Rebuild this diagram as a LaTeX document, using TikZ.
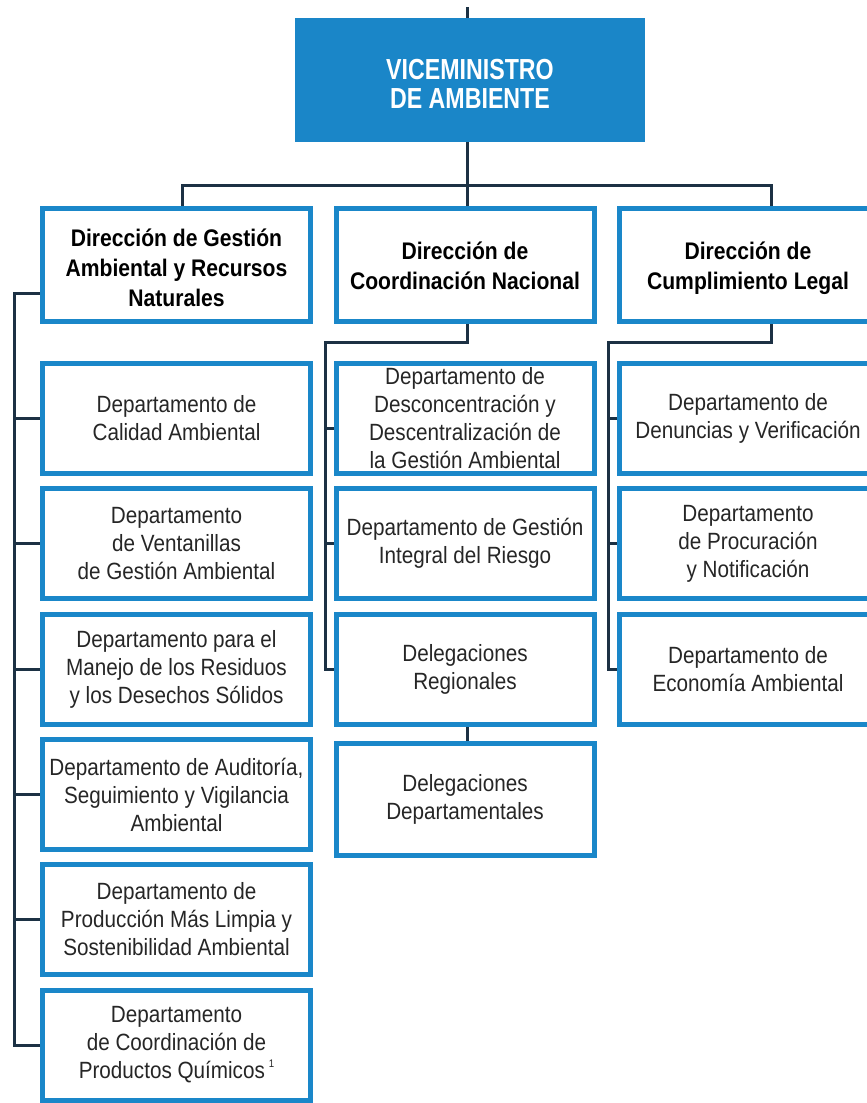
\documentclass[tikz,border=0pt]{standalone}
\usepackage{fontspec}
\setmainfont{Liberation Sans}[FakeStretch=0.88]
\newfontfamily\topfont{Liberation Sans}[FakeStretch=0.8]
\definecolor{boxblue}{HTML}{1A87C9}
\definecolor{fillblue}{HTML}{1A86C8}
\definecolor{navy}{HTML}{1C3144}
\definecolor{txt}{HTML}{262626}
\pgfdeclarelayer{bg}
\pgfsetlayers{bg,main}
\tikzset{
  conn/.style={draw=navy, line width=3pt},
  dept/.style={draw=boxblue, line width=5pt, fill=white, inner sep=0pt, align=center,
     text=txt, font=\fontsize{23.5}{28}\selectfont},
  head/.style={draw=boxblue, line width=5pt, fill=white, inner sep=0pt, align=center,
     text=black, font=\fontsize{24}{30}\selectfont\bfseries,
     minimum height=113pt},
  topbox/.style={fill=fillblue, inner sep=0pt, align=center, text=white,
     font=\topfont\fontsize{29}{29}\selectfont\bfseries},
}
\begin{document}
\begin{tikzpicture}[x=1pt,y=-1pt]
\useasboundingbox (0,0) rectangle (867,1103);
\clip (0,0) rectangle (867,1103);
% top
\node[topbox, minimum width=350pt, minimum height=124pt] (vice) at (470,80) {\raisebox{-8pt}[\height][\depth]{\begin{tabular}{@{}c@{}}VICEMINISTRO\\DE AMBIENTE\end{tabular}}};
% headers
\node[head, minimum width=268pt] (h1) at (176.5,265) {\raisebox{-5pt}[\height][\depth]{\begin{tabular}{@{}c@{}}Dirección de Gestión\\Ambiental y Recursos\\Naturales\end{tabular}}};
\node[head, minimum width=258pt] (h2) at (465,265) {\raisebox{-3pt}[\height][\depth]{\begin{tabular}{@{}c@{}}Dirección de\\Coordinación Nacional\end{tabular}}};
\node[head, minimum width=258pt] (h3) at (748,265) {\raisebox{-3pt}[\height][\depth]{\begin{tabular}{@{}c@{}}Dirección de\\Cumplimiento Legal\end{tabular}}};
% column 1
\tikzset{c1/.style={dept, minimum width=268pt, minimum height=110pt}}
\node[c1] (d11) at (176.5,418.5) {Departamento de\\Calidad Ambiental};
\node[c1] (d12) at (176.5,543.5) {Departamento\\de Ventanillas\\de Gestión Ambiental};
\node[c1] (d13) at (176.5,669) {Departamento para el\\Manejo de los Residuos\\y los Desechos Sólidos};
\node[c1] (d14) at (176.5,794.5) {Departamento de Auditoría,\\Seguimiento y Vigilancia\\Ambiental};
\node[c1] (d15) at (176.5,919) {Departamento de\\Producción Más Limpia y\\Sostenibilidad Ambiental};
\node[c1] (d16) at (176.5,1045) {Departamento\\de Coordinación de\\Productos Químicos\,\raisebox{0.5em}{\fontsize{11}{11}\selectfont 1}};
% column 2
\tikzset{c2/.style={dept, minimum width=258pt, minimum height=110pt}}
\node[c2] (d21) at (465,418.5) {Departamento de\\Desconcentración y\\Descentralización de\\la Gestión Ambiental};
\node[c2] (d22) at (465,543.5) {Departamento de Gestión\\Integral del Riesgo};
\node[c2] (d23) at (465,669) {Delegaciones\\Regionales};
\node[c2, minimum height=112pt] (d24) at (465,799.5) {Delegaciones\\Departamentales};
% column 3
\tikzset{c3/.style={dept, minimum width=258pt, minimum height=110pt}}
\node[c3] (d31) at (748,418.5) {Departamento de\\Denuncias y Verificación};
\node[c3] (d32) at (748,543.5) {Departamento\\de Procuración\\y Notificación};
\node[c3] (d33) at (748,669) {Departamento de\\Economía Ambiental};
% coordinates
\coordinate (topin) at (467,7);
\coordinate (bus) at (467,185);
\coordinate (b1) at (182,185);
\coordinate (b3) at (771,185);
\coordinate (L1) at (14,293);
\coordinate (c2) at (325,342);
\coordinate (c2d) at (467,342);
\coordinate (c3) at (608,342);
\coordinate (c3d) at (771,342);
\begin{pgfonlayer}{bg}
\draw[conn] (topin) -- (topin |- vice.north);
\draw[conn] (vice.south -| bus) -- (bus);
\draw[conn] (h1.north -| b1) -- (b1) -- (b3) -- (h3.north -| b3);
\draw[conn] (bus) -- (h2.north -| bus);
% column 1 bus
\draw[conn] (h1.west |- L1) -- (L1) -- (L1 |- d16.west) -- (d16.west);
\foreach \n in {d11,d12,d13,d14,d15} \draw[conn] (\n.west -| L1) -- (\n.west);
% column 2 bus
\draw[conn] (h2.south -| c2d) -- (c2d) -- (c2) -- (c2 |- d23.west) -- (d23.west);
\draw[conn] ([yshift=-10pt]d21.west -| c2) -- ([yshift=-10pt]d21.west);
\draw[conn] (d22.west -| c2) -- (d22.west);
\draw[conn] (d23.south -| c2d) -- (d24.north -| c2d);
% column 3 bus
\draw[conn] (h3.south -| c3d) -- (c3d) -- (c3) -- (c3 |- d33.west) -- (d33.west);
\foreach \n in {d31,d32} \draw[conn] (\n.west -| c3) -- (\n.west);
\end{pgfonlayer}
\end{tikzpicture}
\end{document}
